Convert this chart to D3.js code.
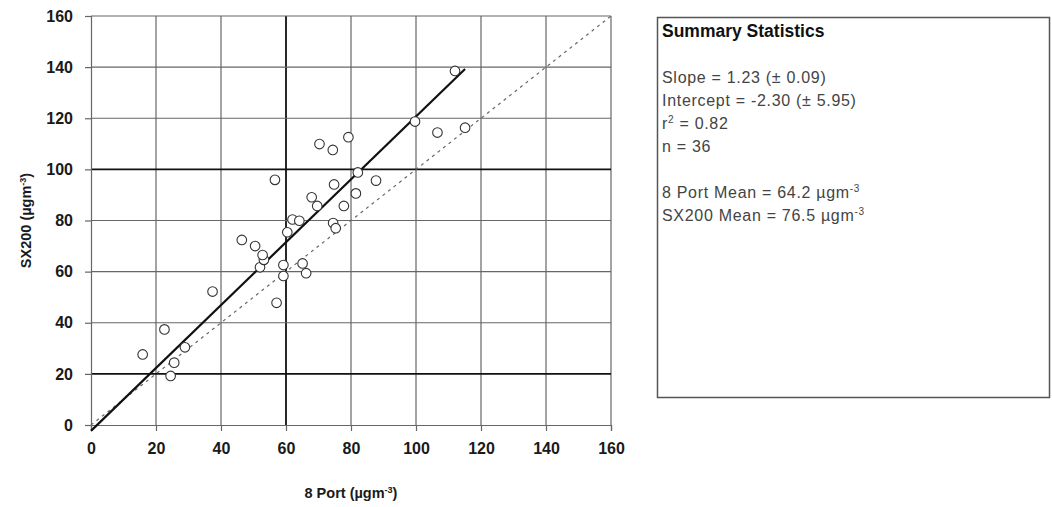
<!DOCTYPE html>
<html>
<head>
<meta charset="utf-8">
<script src="https://cdn.jsdelivr.net/npm/d3@7"></script>
<style>
  html, body { margin: 0; padding: 0; background: #fff; }
  svg { display: block; font-family: "Liberation Sans", Arial, sans-serif; }
</style>
</head>
<body>
<svg id="chart" width="1052" height="507"></svg>
<script>
// Paired daily concentrations: 8 Port sampler (x) vs SX200 (y), µg m^-3
const portX = [15.9, 22.6, 24.5, 25.6, 28.9, 37.4, 46.4, 50.5, 52.0, 53.2, 52.8, 56.6,
               57.1, 59.2, 59.2, 60.4, 62.0, 64.1, 65.1, 66.2, 67.9, 69.6, 70.3, 74.4,
               74.8, 74.5, 75.3, 77.8, 79.2, 81.5, 82.1, 87.7, 99.7, 106.6, 112.0, 115.1];
const sx200Y = [27.6, 37.4, 19.2, 24.4, 30.4, 52.2, 72.4, 70.0, 61.7, 64.6, 66.5, 95.9,
                47.8, 62.6, 58.3, 75.4, 80.4, 79.9, 63.2, 59.4, 89.1, 85.7, 109.9, 107.6,
                94.1, 79.0, 77.0, 85.7, 112.6, 90.6, 98.8, 95.6, 118.7, 114.4, 138.5, 116.3];

// Least-squares fit reported in the summary panel
const slope = 1.23;
const intercept = -2.30;
const fitRange = [0, 115.1];

const xTicks = [0, 20, 40, 60, 80, 100, 120, 140, 160];
const yTicks = [0, 20, 40, 60, 80, 100, 120, 140, 160];
const boldX = [60];
const boldY = [20, 100];

const statTitle = "Summary Statistics";
const statLines = [
  ["Slope = 1.23 (\u00b1 0.09)"],
  ["Intercept = -2.30 (\u00b1 5.95)"],
  ["r", "2", " = 0.82"],
  ["n = 36"],
  null,
  ["8 Port Mean = 64.2 \u00b5gm", "-3"],
  ["SX200 Mean = 76.5 \u00b5gm", "-3"]
];

const svg = d3.select("#chart");
const plot = { left: 91, right: 611, top: 16, bottom: 425 };

const x = d3.scaleLinear().domain([0, 160]).range([plot.left, plot.right]);
const y = d3.scaleLinear().domain([0, 160]).range([plot.bottom, plot.top]);

// Grid
const grid = svg.append("g");
grid.selectAll("line.vx").data(xTicks.slice(1)).enter().append("line")
  .attr("x1", d => x(d)).attr("x2", d => x(d))
  .attr("y1", plot.top).attr("y2", plot.bottom)
  .attr("stroke", d => boldX.includes(d) ? "#111" : "#666")
  .attr("stroke-width", d => boldX.includes(d) ? 1.8 : 1.2);
grid.selectAll("line.hy").data(yTicks.slice(1)).enter().append("line")
  .attr("x1", plot.left).attr("x2", plot.right)
  .attr("y1", d => y(d)).attr("y2", d => y(d))
  .attr("stroke", d => boldY.includes(d) ? "#111" : "#666")
  .attr("stroke-width", d => boldY.includes(d) ? 1.8 : 1.2);

// Axes
const xAxis = svg.append("g").attr("transform", `translate(0,${plot.bottom})`)
  .call(d3.axisBottom(x).tickValues(xTicks).tickSize(6).tickPadding(9).tickFormat(d3.format("d")));
const yAxis = svg.append("g").attr("transform", `translate(${plot.left},0)`)
  .call(d3.axisLeft(y).tickValues(yTicks).tickSize(6).tickPadding(12).tickFormat(d3.format("d")));
[xAxis, yAxis].forEach(a => {
  a.select(".domain").attr("stroke", "#666").attr("stroke-width", 1.2);
  a.selectAll(".tick line").attr("stroke", "#666").attr("stroke-width", 1.2);
  a.selectAll(".tick text").attr("fill", "#1a1a1a")
    .style("font-size", "16px").style("font-weight", "bold")
    .style("font-family", "'Liberation Sans', Arial, sans-serif");
});
xAxis.selectAll(".tick text").attr("dy", "0.85em");

// 1:1 reference line
svg.append("line")
  .attr("x1", x(0)).attr("y1", y(0)).attr("x2", x(160)).attr("y2", y(160))
  .attr("stroke", "#666").attr("stroke-width", 1.2).attr("stroke-dasharray", "3,4");

// Regression line
svg.append("line")
  .attr("x1", x(fitRange[0])).attr("y1", y(slope * fitRange[0] + intercept))
  .attr("x2", x(fitRange[1])).attr("y2", y(slope * fitRange[1] + intercept))
  .attr("stroke", "#111").attr("stroke-width", 2.2);

// Points
svg.append("g").selectAll("circle").data(d3.zip(portX, sx200Y)).enter().append("circle")
  .attr("cx", d => x(d[0])).attr("cy", d => y(d[1])).attr("r", 4.8)
  .attr("fill", "#fff").attr("stroke", "#333").attr("stroke-width", 1.1);

// Axis titles
const xt = svg.append("text").attr("x", (plot.left + plot.right) / 2).attr("y", 498)
  .attr("text-anchor", "middle").attr("fill", "#1a1a1a")
  .style("font-size", "14.5px").style("font-weight", "bold");
xt.append("tspan").text("8 Port (\u00b5gm");
xt.append("tspan").attr("dy", -5).style("font-size", "9px").text("-3");
xt.append("tspan").attr("dy", 5).text(")");

const yt = svg.append("text")
  .attr("transform", `translate(31,${(plot.top + plot.bottom) / 2}) rotate(-90)`)
  .attr("text-anchor", "middle").attr("fill", "#1a1a1a")
  .style("font-size", "14.5px").style("font-weight", "bold");
yt.append("tspan").text("SX200 (\u00b5gm");
yt.append("tspan").attr("dy", -5).style("font-size", "9px").text("-3");
yt.append("tspan").attr("dy", 5).text(")");

// Summary statistics panel
svg.append("rect").attr("x", 657.5).attr("y", 17.5).attr("width", 392).attr("height", 380)
  .attr("fill", "#fff").attr("stroke", "#555").attr("stroke-width", 1.5);
svg.append("text").attr("x", 662).attr("y", 37).attr("fill", "#111")
  .style("font-size", "17.5px").style("font-weight", "bold").text(statTitle);

const lineY = d3.scaleLinear().domain([0, 1]).range([83, 106]);
statLines.forEach((parts, i) => {
  if (!parts) return;
  const t = svg.append("text").attr("x", 662).attr("y", lineY(i)).attr("fill", "#444")
    .style("font-size", "16px").style("letter-spacing", "0.7px");
  if (parts.length === 3) {
    t.append("tspan").text(parts[0]);
    t.append("tspan").attr("dy", -6).style("font-size", "10px").text(parts[1]);
    t.append("tspan").attr("dy", 6).text(parts[2]);
  } else if (parts.length === 2) {
    t.append("tspan").text(parts[0]);
    t.append("tspan").attr("dy", -6).style("font-size", "10px").text(parts[1]);
  } else {
    t.text(parts[0]);
  }
});
</script>
</body>
</html>
